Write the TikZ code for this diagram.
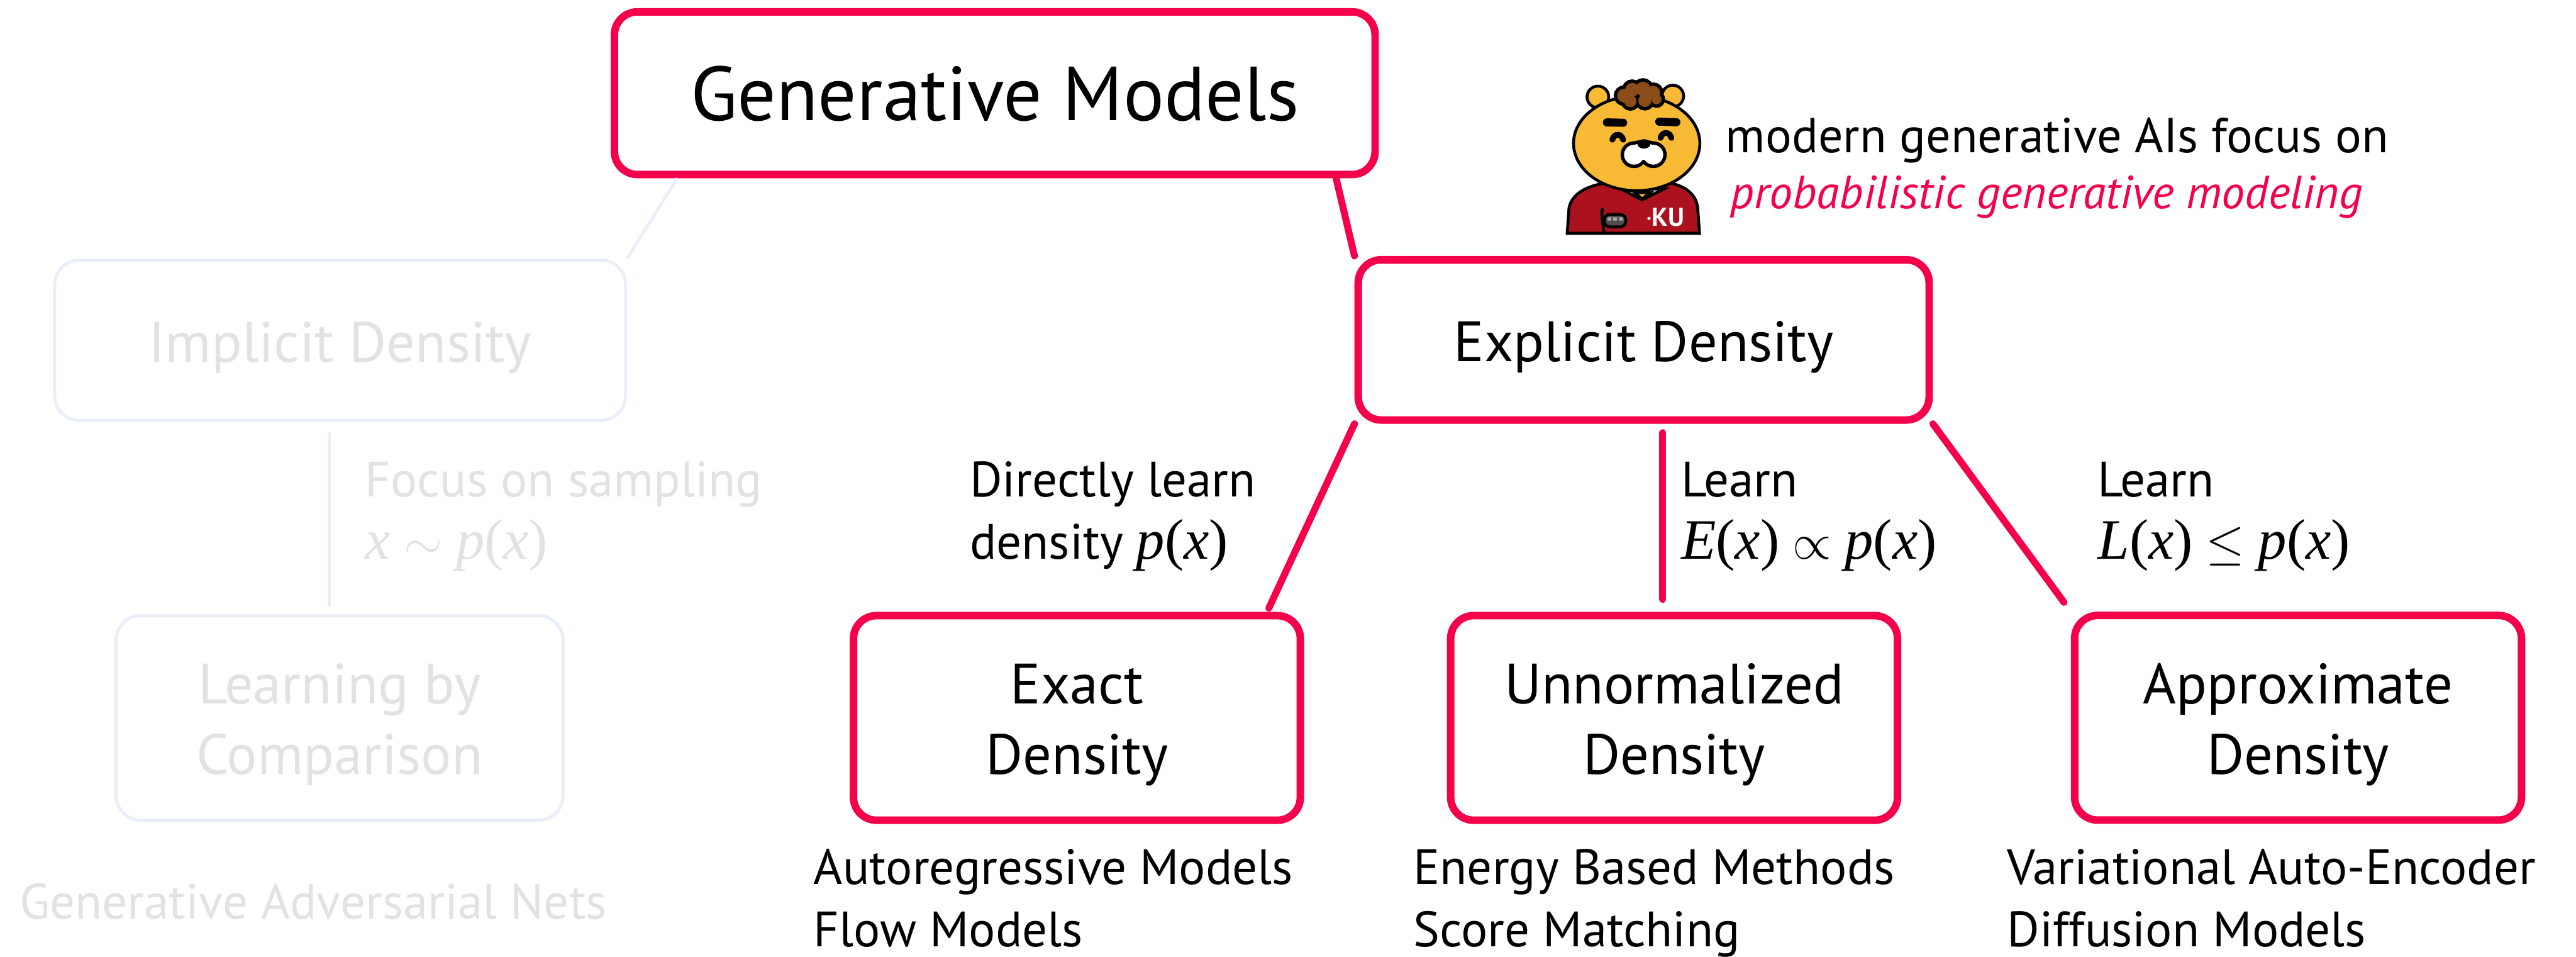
\documentclass[tikz,border=0pt]{standalone}
\usepackage{fontspec}
\setmainfont{PT Sans}
\newfontfamily\timesfont[Scale=1.15]{Liberation Serif}
\usetikzlibrary{positioning,calc}
\definecolor{kured}{RGB}{245,0,75}
\definecolor{fadeline}{RGB}{233,238,249}
\definecolor{fadetext}{RGB}{226,226,226}
\definecolor{ryanyellow}{RGB}{248,186,52}
\definecolor{ryanbrown}{RGB}{138,76,24}
\definecolor{jacketred}{RGB}{172,18,30}
% variables and f(x) set in a Times-like italic
\newcommand{\mv}[1]{{\timesfont\itshape #1}}
\newcommand{\mfun}[2]{\mv{#1}{\timesfont(}\mv{#2}{\timesfont)}}

\begin{document}
\begin{tikzpicture}[
    box/.style={draw=kured, line width=2.6pt, rounded corners=0.28cm, inner sep=0pt,
      align=center, font=\fontsize{19.7}{24.4}\selectfont},
    upper/.style={minimum width=6.95cm, minimum height=1.95cm, text height=15pt, text depth=0pt},
    lower/.style={minimum width=5.44cm, minimum height=2.49cm, text height=39pt, text depth=0pt},
    ghost/.style={draw=fadeline, line width=1.1pt, rounded corners=0.3cm, inner sep=0pt,
      align=center, text=fadetext, font=\fontsize{19.7}{24.4}\selectfont},
    ghostlink/.style={draw=fadeline, line width=1.1pt},
    link/.style={draw=kured, line width=2.4pt, line cap=round},
    note/.style={inner sep=0pt, align=left, anchor=base west, font=\fontsize{17.2}{21.5}\selectfont},
  ]
  \useasboundingbox (0,0) rectangle (31.36,-11.64);

  % the tree
  \node[box, minimum width=9.26cm, minimum height=1.98cm, text height=19pt, text depth=0pt,
    font=\fontsize{26.5}{30}\selectfont] (gm) at (12.11,-1.134) {Generative Models};
  \node[ghost, upper] (id) at (4.14,-4.14) {Implicit Density};
  \node[ghost, lower] (lc) at (4.134,-8.736) {Learning by\\Comparison};
  \node[box, upper] (ed) at (20.01,-4.136) {Explicit Density};
  \node[box, lower] (ex) at (13.11,-8.736) {Exact\\Density};
  \node[box, lower] (un) at (20.38,-8.736) {Unnormalized\\Density};
  \node[box, lower] (ap) at (27.976,-8.734) {Approximate\\Density};

  \coordinate (gvx) at (4.006,0);
  \coordinate (rvx) at (20.24,0);
  \draw[ghostlink] (gm.-165.5) -- (id.north east);
  \draw[ghostlink, shorten <=3.6pt, shorten >=2.3pt] (id.south -| gvx) -- (lc.north -| gvx);
  \draw[link] (gm.-14.5) -- (ed.north west);
  \draw[link, shorten >=1.4pt] (ed.south west) -- ($(ex.north east)+(-0.45,0)$);
  \draw[link, shorten <=3.1pt, shorten >=4.3pt] (ed.south -| rvx) -- (un.north -| rvx);
  \draw[link, shorten >=4pt] (ed.south east) -- (ap.north west);

  % edge labels (placed at the last baseline)
  \node[note, text=fadetext] (lsamp) at (4.44,-6.8) {Focus on sampling\\\mv{x} $\sim$ \mfun{p}{x}};
  \node[note] (lexact) at (11.8,-6.8) {Directly learn\\density \mfun{p}{x}};
  \node[note] (lunnorm) at (20.46,-6.8) {Learn\\\mfun{E}{x} $\propto$ \mfun{p}{x}};
  \node[note] (lapprox) at (25.53,-6.8) {Learn\\\mfun{L}{x} $\leq$ \mfun{p}{x}};

  % model families
  \node[note, text=fadetext] (mgan) at (0.232,-11.18) {Generative Adversarial Nets};
  \node[note] (mexact) at (9.9,-11.52) {Autoregressive Models\\Flow Models};
  \node[note] (munnorm) at (17.2,-11.52) {Energy Based Methods\\Score Matching};
  \node[note] (mapprox) at (24.43,-11.52) {Variational Auto-Encoder\\Diffusion Models};

  % remark
  \node[note, font=\fontsize{17}{20}\selectfont] (rem1) at (21.0,-1.854) {modern generative AIs focus on};
  \node[note, font=\fontsize{16.1}{20}\selectfont\itshape, text=kured] (rem2) at (21.06,-2.538)
    {probabilistic generative modeling};

  % mascot
  \begin{scope}[shift={(18.87,-0.993)}, x=0.0022cm, y=-0.0022cm, line width=1pt]
    \filldraw[fill=ryanyellow] (265,85) circle [radius=60];
    \filldraw[fill=ryanyellow] (680,80) circle [radius=60];
    \filldraw[fill=jacketred] (95,840) -- (105,700) .. controls (125,600) and (250,560) .. (380,555)
      -- (600,555) .. controls (740,560) and (810,620) .. (818,700) -- (828,840) -- cycle;
    \filldraw[fill=white] (395,595) -- (510,655) -- (630,595) -- cycle;
    \filldraw[fill=ryanyellow] (470,615) -- (510,650) -- (555,615) -- cycle;
    \filldraw[fill=ryanyellow] (480,342) ellipse [x radius=350, y radius=262];
    \foreach \hx/\hy/\hr in {410/78/38,455/45/38,515/40/40,572/62/38,445/108/34,525/105/36,590/98/28}
      \draw[line width=2.4pt] (\hx,\hy) circle [radius=\hr];
    \foreach \hx/\hy/\hr in {410/78/38,455/45/38,515/40/40,572/62/38,445/108/34,525/105/36,590/98/28}
      \fill[ryanbrown] (\hx,\hy) circle [radius=\hr];
    \draw[line width=2.8pt, line cap=round] (315,226) -- (405,228) (605,222) -- (700,225);
    \draw[line width=2pt, line cap=round] (345,322) .. controls (355,285) and (395,285) .. (405,322)
      (612,312) .. controls (622,275) and (662,275) .. (672,312);
    \foreach \mx/\my/\mrx/\mry in {465/405/55/55,572/405/55/55,518/388/95/45}
      \draw[line width=2.4pt] (\mx,\my) ellipse [x radius=\mrx, y radius=\mry];
    \foreach \mx/\my/\mrx/\mry in {465/405/55/55,572/405/55/55,518/388/95/45}
      \fill[white] (\mx,\my) ellipse [x radius=\mrx, y radius=\mry];
    \fill (520,345) ellipse [x radius=36, y radius=26];
    \draw (300,840) .. controls (290,780) and (285,740) .. (290,700);
    \filldraw[fill=black!70, rounded corners=2pt] (300,735) rectangle (420,805);
    \fill[black!35] (318,752) rectangle (340,770) (350,752) rectangle (372,770) (382,752) rectangle (404,770);
    \fill[white] (548,758) circle [radius=9];
    \node[text=white, font=\bfseries\fontsize{9}{9}\selectfont, inner sep=0pt] (ku) at (655,752) {KU};
  \end{scope}
\end{tikzpicture}
\end{document}
